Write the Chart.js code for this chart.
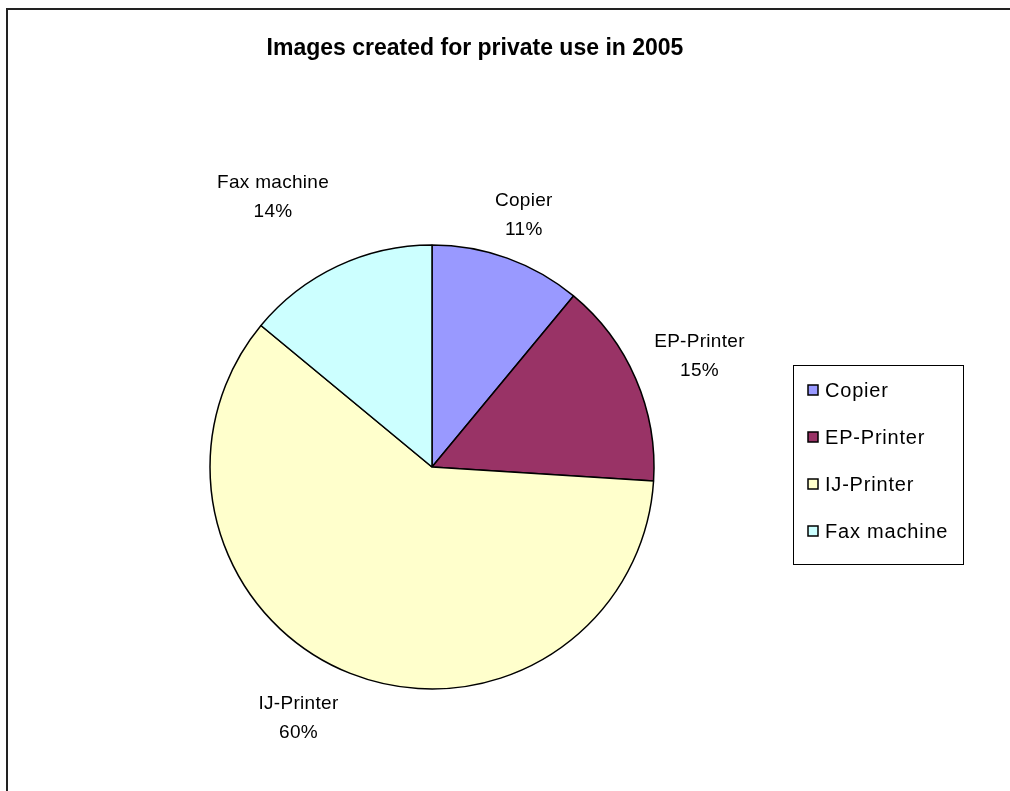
<!DOCTYPE html>
<html>
<head>
<meta charset="utf-8">
<title>Images created for private use in 2005</title>
<script src="https://cdn.jsdelivr.net/npm/chart.js@4.4.1/dist/chart.umd.min.js"></script>
<style>
  html, body { margin: 0; padding: 0; background: #fff; overflow: hidden; }
  #wrap { position: absolute; left: 0; top: 0; width: 1010px; height: 791px; }
  #frame { position: absolute; left: 6px; top: 8px; width: 1100px; height: 900px;
           border-top: 2px solid #222; border-left: 2px solid #222; }
  canvas { position: absolute; left: 0; top: 0; }
</style>
</head>
<body>
<div id="wrap">
  <div id="frame"></div>
  <canvas id="canvas" width="1010" height="791"></canvas>
</div>
<script>
// shares of images created for private use, 2005 (%)
var devices = ['Copier', 'EP-Printer', 'IJ-Printer', 'Fax machine'];
var shares = [11, 15, 60, 14];
var colors = ['#9999FF', '#993366', '#FFFFCC', '#CCFFFF'];
var chartTitle = 'Images created for private use in 2005';

var FONT = 'Arial, "Liberation Sans", sans-serif';

// title, outside labels and the boxed legend
var excelBits = {
    id: 'excelBits',
    afterDatasetsDraw: function(chart, args, opts) {
        var ctx = chart.ctx;
        var meta = chart.getDatasetMeta(0);
        var total = shares.reduce(function(a, b){ return a + b; }, 0);
        ctx.save();

        // title
        ctx.fillStyle = '#000';
        ctx.font = 'bold ' + opts.titleSize + 'px ' + FONT;
        ctx.textAlign = 'center';
        ctx.textBaseline = 'alphabetic';
        ctx.fillText(chartTitle, opts.titleX, opts.titleY);

        // category + percent labels outside each slice
        ctx.font = opts.labelSize + 'px ' + FONT;
        ctx.letterSpacing = opts.spacing;
        ctx.textBaseline = 'middle';
        var lh = opts.lineHeight;
        meta.data.forEach(function(arc, i){
            var p = arc.getProps(['x', 'y', 'startAngle', 'endAngle', 'outerRadius'], true);
            var mid = (p.startAngle + p.endAngle) / 2;
            var pct = Math.round(shares[i] / total * 100) + '%';
            var w = Math.max(ctx.measureText(devices[i]).width, ctx.measureText(pct).width);
            var h = lh * 2;
            var cx = Math.cos(mid), cy = Math.sin(mid);
            var ext = Math.abs(cx) * w / 2 + Math.abs(cy) * h / 2;
            var d = p.outerRadius + opts.gap + ext;
            var nx = opts.nudge[i] || [0, 0];
            var x = p.x + cx * d + nx[0];
            var y = p.y + cy * d + nx[1];
            ctx.fillText(devices[i], x, y - lh / 2);
            ctx.fillText(pct, x, y + lh / 2);
        });

        // legend box
        var L = opts.legend;
        ctx.lineWidth = 1;
        ctx.strokeStyle = '#000';
        ctx.strokeRect(L.x + 0.5, L.y + 0.5, L.w, L.h);
        ctx.textAlign = 'left';
        ctx.font = L.size + 'px ' + FONT;
        ctx.letterSpacing = L.spacing;
        devices.forEach(function(name, i){
            var ry = L.y + L.first + i * L.step;
            ctx.fillStyle = colors[i];
            ctx.fillRect(L.x + 15, ry - 5, 10, 10);
            ctx.strokeStyle = '#000';
            ctx.lineWidth = 1.5;
            ctx.strokeRect(L.x + 15, ry - 5, 10, 10);
            ctx.fillStyle = '#000';
            ctx.fillText(name, L.x + 32, ry + 1);
        });
        ctx.restore();
    }
};

var ctx = document.getElementById('canvas').getContext('2d');
var myChart = new Chart(ctx, {
    type: 'pie',
    data: {
        labels: devices,
        datasets: [{
            data: shares,
            backgroundColor: colors,
            borderColor: '#000',
            borderWidth: 1.5
        }]
    },
    options: {
        responsive: false,
        animation: false,
        radius: 222,
        layout: { padding: { left: 10, right: 156, top: 153, bottom: 10 } },
        plugins: {
            legend: { display: false },
            tooltip: { enabled: false },
            excelBits: {
                titleSize: 23, titleX: 475, titleY: 55,
                labelSize: 19, spacing: '0.3px', lineHeight: 29, gap: 12,
                nudge: [[0, 3], [4, 3], [-32, -5], [-38, -13]],
                legend: { x: 793, y: 365, w: 170, h: 199, first: 25, step: 47,
                          size: 20, spacing: '0.8px' }
            }
        }
    },
    plugins: [excelBits]
});
</script>
</body>
</html>
